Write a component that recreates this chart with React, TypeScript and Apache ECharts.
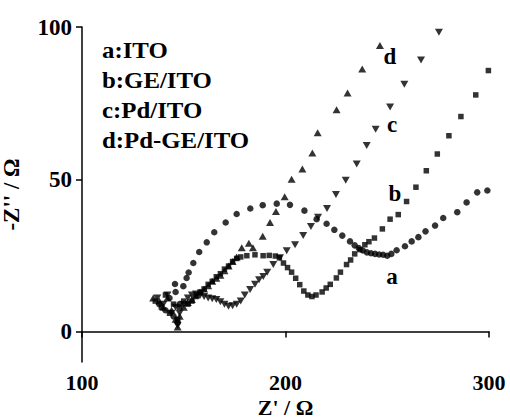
import React, { useEffect, useRef } from "react";
import * as echarts from "echarts";

const xTicks = [100, 200, 300];
const yTicks = [0, 50, 100];
const legendLines = ["a:ITO", "b:GE/ITO", "c:Pd/ITO", "d:Pd-GE/ITO"];
const curveTags = ["a", "b", "c", "d"];

// a: ITO (circles)
const seriesA: number[][] = [
  [138, 9], [141, 7], [143, 11], [145, 5], [146, 13], [147, 3], [148, 9], [145.7, 15.6],
  [149.8, 14.9], [151.4, 17.6], [152.4, 19.4], [154.7, 22.5], [157.6, 26.1], [161.3, 29.3],
  [165, 32.6], [170.6, 35.8], [176, 38.6], [182.7, 40.4], [188.8, 41.5], [195.7, 42],
  [202.2, 41.6], [209.3, 39.7], [215.3, 36.9], [220.2, 35.4], [224, 33.4], [227.9, 31.5],
  [231.7, 29.6], [234, 28.3], [236, 27.4], [238, 26.6], [240, 26], [242, 25.7], [244, 25.5],
  [246, 25.3], [248, 25.2], [250, 24.9], [252, 25.5], [254.6, 26.7], [258.7, 28], [262, 29.6],
  [265.3, 31], [268.8, 32.9], [273.5, 34.8], [277.5, 37.3], [284.4, 39.2], [289, 42.4],
  [294.2, 45.7], [299.2, 46.3],
];

// b: GE/ITO (squares)
const seriesB: number[][] = [
  [136, 10], [139, 8], [141, 12], [143, 6], [145, 9], [147, 4], [148, 8], [150, 10], [152, 9],
  [154, 10], [156, 11.5], [158, 13], [160, 14], [162, 15.5], [164, 16.5], [166, 18], [168, 19],
  [170, 20.5], [172, 21.5], [174, 23], [176, 24], [178, 24.5], [181, 24.9], [185, 25.2],
  [189, 24.9], [192, 25], [195, 24.8], [197, 24.2], [199, 22.5], [201, 21], [203, 19.5],
  [205, 17.5], [207, 15.4], [209, 13.3], [211, 12], [213, 11.5], [215, 12], [218, 13],
  [220, 14.3], [222, 15.5], [225, 17.6], [227, 19.5], [230, 22], [232, 23.5], [234, 25.5],
  [236.6, 26.9], [239, 28.5], [241, 29.5], [243.7, 30.7], [247.6, 33.7], [251.4, 36.9],
  [255.4, 38.4], [259.5, 42.7], [264.1, 47.4], [269.2, 52.8], [274.6, 58.3], [280.3, 64.3],
  [286.2, 70.6], [293.5, 77.7], [299.7, 85.7],
];

// c: Pd/ITO (down triangles)
const seriesC: number[][] = [
  [137, 11], [140, 9], [142, 12], [144, 6], [146, 8], [147, 2], [148, 6], [150, 9], [152, 11],
  [154, 12], [156, 12.3], [158, 11.8], [160, 11.5], [162, 11], [164, 10.8], [166, 10.5],
  [168, 9.8], [170, 9], [172, 8.3], [174, 8.5], [176, 9], [178, 10], [180, 12], [182.6, 13.8],
  [185, 15.5], [187, 17], [189.1, 18.1], [191, 19.5], [194, 22], [197.3, 24.2], [200.6, 26.5],
  [204.7, 28.5], [208.7, 31.5], [212.5, 34.5], [216, 37.5], [220.4, 40.4], [224.8, 45],
  [229.6, 49.7], [235, 55], [239.9, 61.1], [244.3, 66.4], [251.4, 73.7], [258.4, 81.2],
  [266.6, 89.2], [275.4, 98.3],
];

// d: Pd-GE/ITO (up triangles)
const seriesD: number[][] = [
  [135, 11], [138, 10], [140, 8], [142, 11], [144, 7], [146, 4], [147, 1.5], [148, 5], [150, 8],
  [152, 9.5], [154, 10.5], [156, 12], [158, 13], [160, 14], [162, 15], [164, 16.5], [166, 17.5],
  [168, 18.5], [170, 20], [172, 21.5], [174, 23], [176, 24.5], [178.5, 27.5], [182, 29],
  [184, 27.5], [188.8, 31.3], [192.4, 35.8], [195.3, 39.4], [199.6, 44.3], [203, 50],
  [208.3, 53.4], [213.2, 58.6], [215.8, 65.3], [225.1, 72.8], [230.5, 78.3], [237.7, 86.2],
  [246.4, 93.9],
];

const FONT = "'Liberation Serif', 'Times New Roman', serif";
const FS = 23;

export default function App() {
  const ref = useRef<HTMLDivElement>(null);
  useEffect(() => {
    if (!ref.current) return;
    const chart = echarts.init(ref.current, undefined, { renderer: "svg" });
    const txt = { fontFamily: FONT, fontWeight: "bold" as const, fontSize: FS, color: "#000" };
    const tagPos = [
      [392, 276],
      [395, 193],
      [392, 124],
      [390, 56],
    ];
    chart.setOption({
      animation: false,
      backgroundColor: "#fff",
      grid: { left: 82, right: 21, top: 27, bottom: 56, outerBoundsMode: "none" },
      xAxis: {
        type: "value",
        min: xTicks[0],
        max: xTicks[xTicks.length - 1],
        interval: 100,
        name: "Z' / Ω",
        nameLocation: "middle",
        nameGap: 35,
        nameMoveOverlap: false,
        nameTextStyle: { ...txt, fontSize: 22, lineHeight: 20 },
        axisLine: { lineStyle: { color: "#000", width: 1.5 } },
        axisTick: { length: 6, lineStyle: { color: "#000", width: 1.5 } },
        axisLabel: { ...txt, fontSize: 22, margin: 10, lineHeight: 20 },
        splitLine: { show: false },
      },
      yAxis: {
        type: "value",
        min: -10,
        max: 100,
        name: "-Z'' / Ω",
        nameLocation: "middle",
        nameGap: 59,
        nameMoveOverlap: false,
        nameTextStyle: { ...txt },
        axisLine: { show: true, lineStyle: { color: "#000", width: 1.5 } },
        axisTick: { show: true, length: 6, customValues: yTicks, lineStyle: { color: "#000", width: 1.5 } },
        axisLabel: { ...txt, margin: 10, customValues: yTicks },
        splitLine: { show: false },
      },
      graphic: [
        ...legendLines.map((t, i) => ({
          type: "text",
          x: 102,
          y: 50 + i * 30,
          scaleX: 1.08,
          style: {
            text: t,
            font: `bold ${FS}px ${FONT}`,
            fill: "#000",
            align: "left",
            verticalAlign: "middle",
          },
        })),
        ...curveTags.map((t, i) => ({
          type: "text",
          x: tagPos[i][0],
          y: tagPos[i][1],
          style: {
            text: t,
            font: `bold ${FS}px ${FONT}`,
            fill: "#000",
            align: "center",
            verticalAlign: "middle",
          },
        })),
      ],
      series: [
        { name: "a", type: "scatter", data: seriesA, symbol: "circle", symbolSize: 6.5, itemStyle: { color: "#000" } },
        { name: "b", type: "scatter", data: seriesB, symbol: "rect", symbolSize: 5.5, itemStyle: { color: "#000" } },
        {
          name: "c",
          type: "scatter",
          data: seriesC,
          symbol: "triangle",
          symbolRotate: 180,
          symbolSize: [8, 7],
          itemStyle: { color: "#000" },
        },
        { name: "d", type: "scatter", data: seriesD, symbol: "triangle", symbolSize: [8, 7], itemStyle: { color: "#000" } },
      ],
    });
    return () => chart.dispose();
  }, []);
  return (
    <div
      ref={ref}
      style={{ position: "fixed", left: 0, top: 0, width: 510, height: 418, background: "#fff" }}
    />
  );
}
